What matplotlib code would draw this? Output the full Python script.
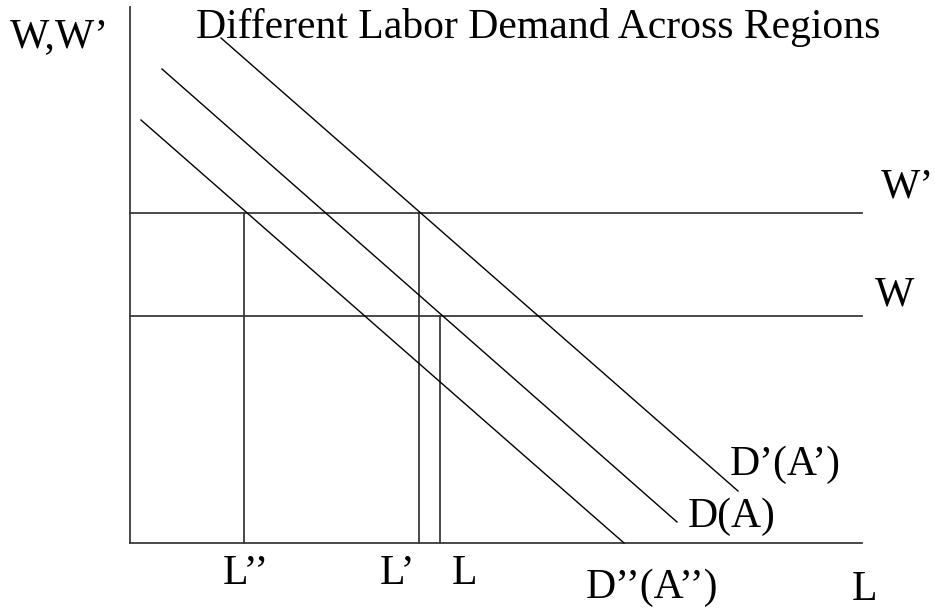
import matplotlib
matplotlib.use("Agg")
import matplotlib.pyplot as plt

plt.rcParams['font.family'] = ['Liberation Serif', 'DejaVu Serif']

# wage levels (W' high region, W low region)
wage_labels = ["W'", "W"]
wage_levels = [330, 227]

# demand curves: (L start, W start) -> (L end, W end)
demand_labels = ["D'(A')", "D(A)", "D''(A'')"]
demand_L = [[91, 608], [32, 547], [11, 494]]
demand_W = [[505, 52], [474, 21], [423, 0]]

# employment levels and the wage each one reaches up to
emp_labels = ["L''", "L'", "L"]
emp_levels = [114, 289, 310]
emp_wage = [330, 330, 227]

L_max = 732
W_max = 536

fig = plt.figure(figsize=(9.35, 6.1), dpi=100)
ax = fig.add_axes([0, 0, 1, 1])
ax.set_xlim(-130, 805)
ax.set_ylim(-67, 543)
ax.axis('off')

grey = '#3a3a3a'
fs = 30

# axes
ax.plot([0, 0], [0, W_max], color=grey, lw=1.3)
ax.plot([0, L_max], [0, 0], color=grey, lw=1.3)

# wage lines
for w in wage_levels:
    ax.plot([0, L_max], [w, w], color=grey, lw=1.3)

# employment verticals
for l, w in zip(emp_levels, emp_wage):
    ax.plot([l, l], [0, w], color=grey, lw=1.3)

# demand curves
for xs, ys in zip(demand_L, demand_W):
    ax.plot(xs, ys, color='black', lw=1.0)

# labels
ax.text(-120, 496, "W,W\u2019", fontsize=fs, va='baseline', ha='left')
ax.text(66, 505, "Different Labor Demand Across Regions", fontsize=fs, va='baseline', ha='left')
ax.text(751, 346, "W\u2019", fontsize=fs, va='baseline', ha='left')
ax.text(745, 237, "W", fontsize=fs, va='baseline', ha='left')
ax.text(93, -41, "L\u2019\u2019", fontsize=fs, va='baseline', ha='left')
ax.text(250, -41, "L\u2019", fontsize=fs, va='baseline', ha='left')
ax.text(322, -41, "L", fontsize=fs, va='baseline', ha='left')
ax.text(600, 68, "D\u2019(A\u2019)", fontsize=fs, va='baseline', ha='left')
ax.text(558, 16, "D(A)", fontsize=fs, va='baseline', ha='left')
ax.text(456, -55, "D\u2019\u2019(A\u2019\u2019)", fontsize=fs, va='baseline', ha='left')
ax.text(722, -57, "L", fontsize=fs, va='baseline', ha='left')

fig.savefig("out.png", dpi=100)
